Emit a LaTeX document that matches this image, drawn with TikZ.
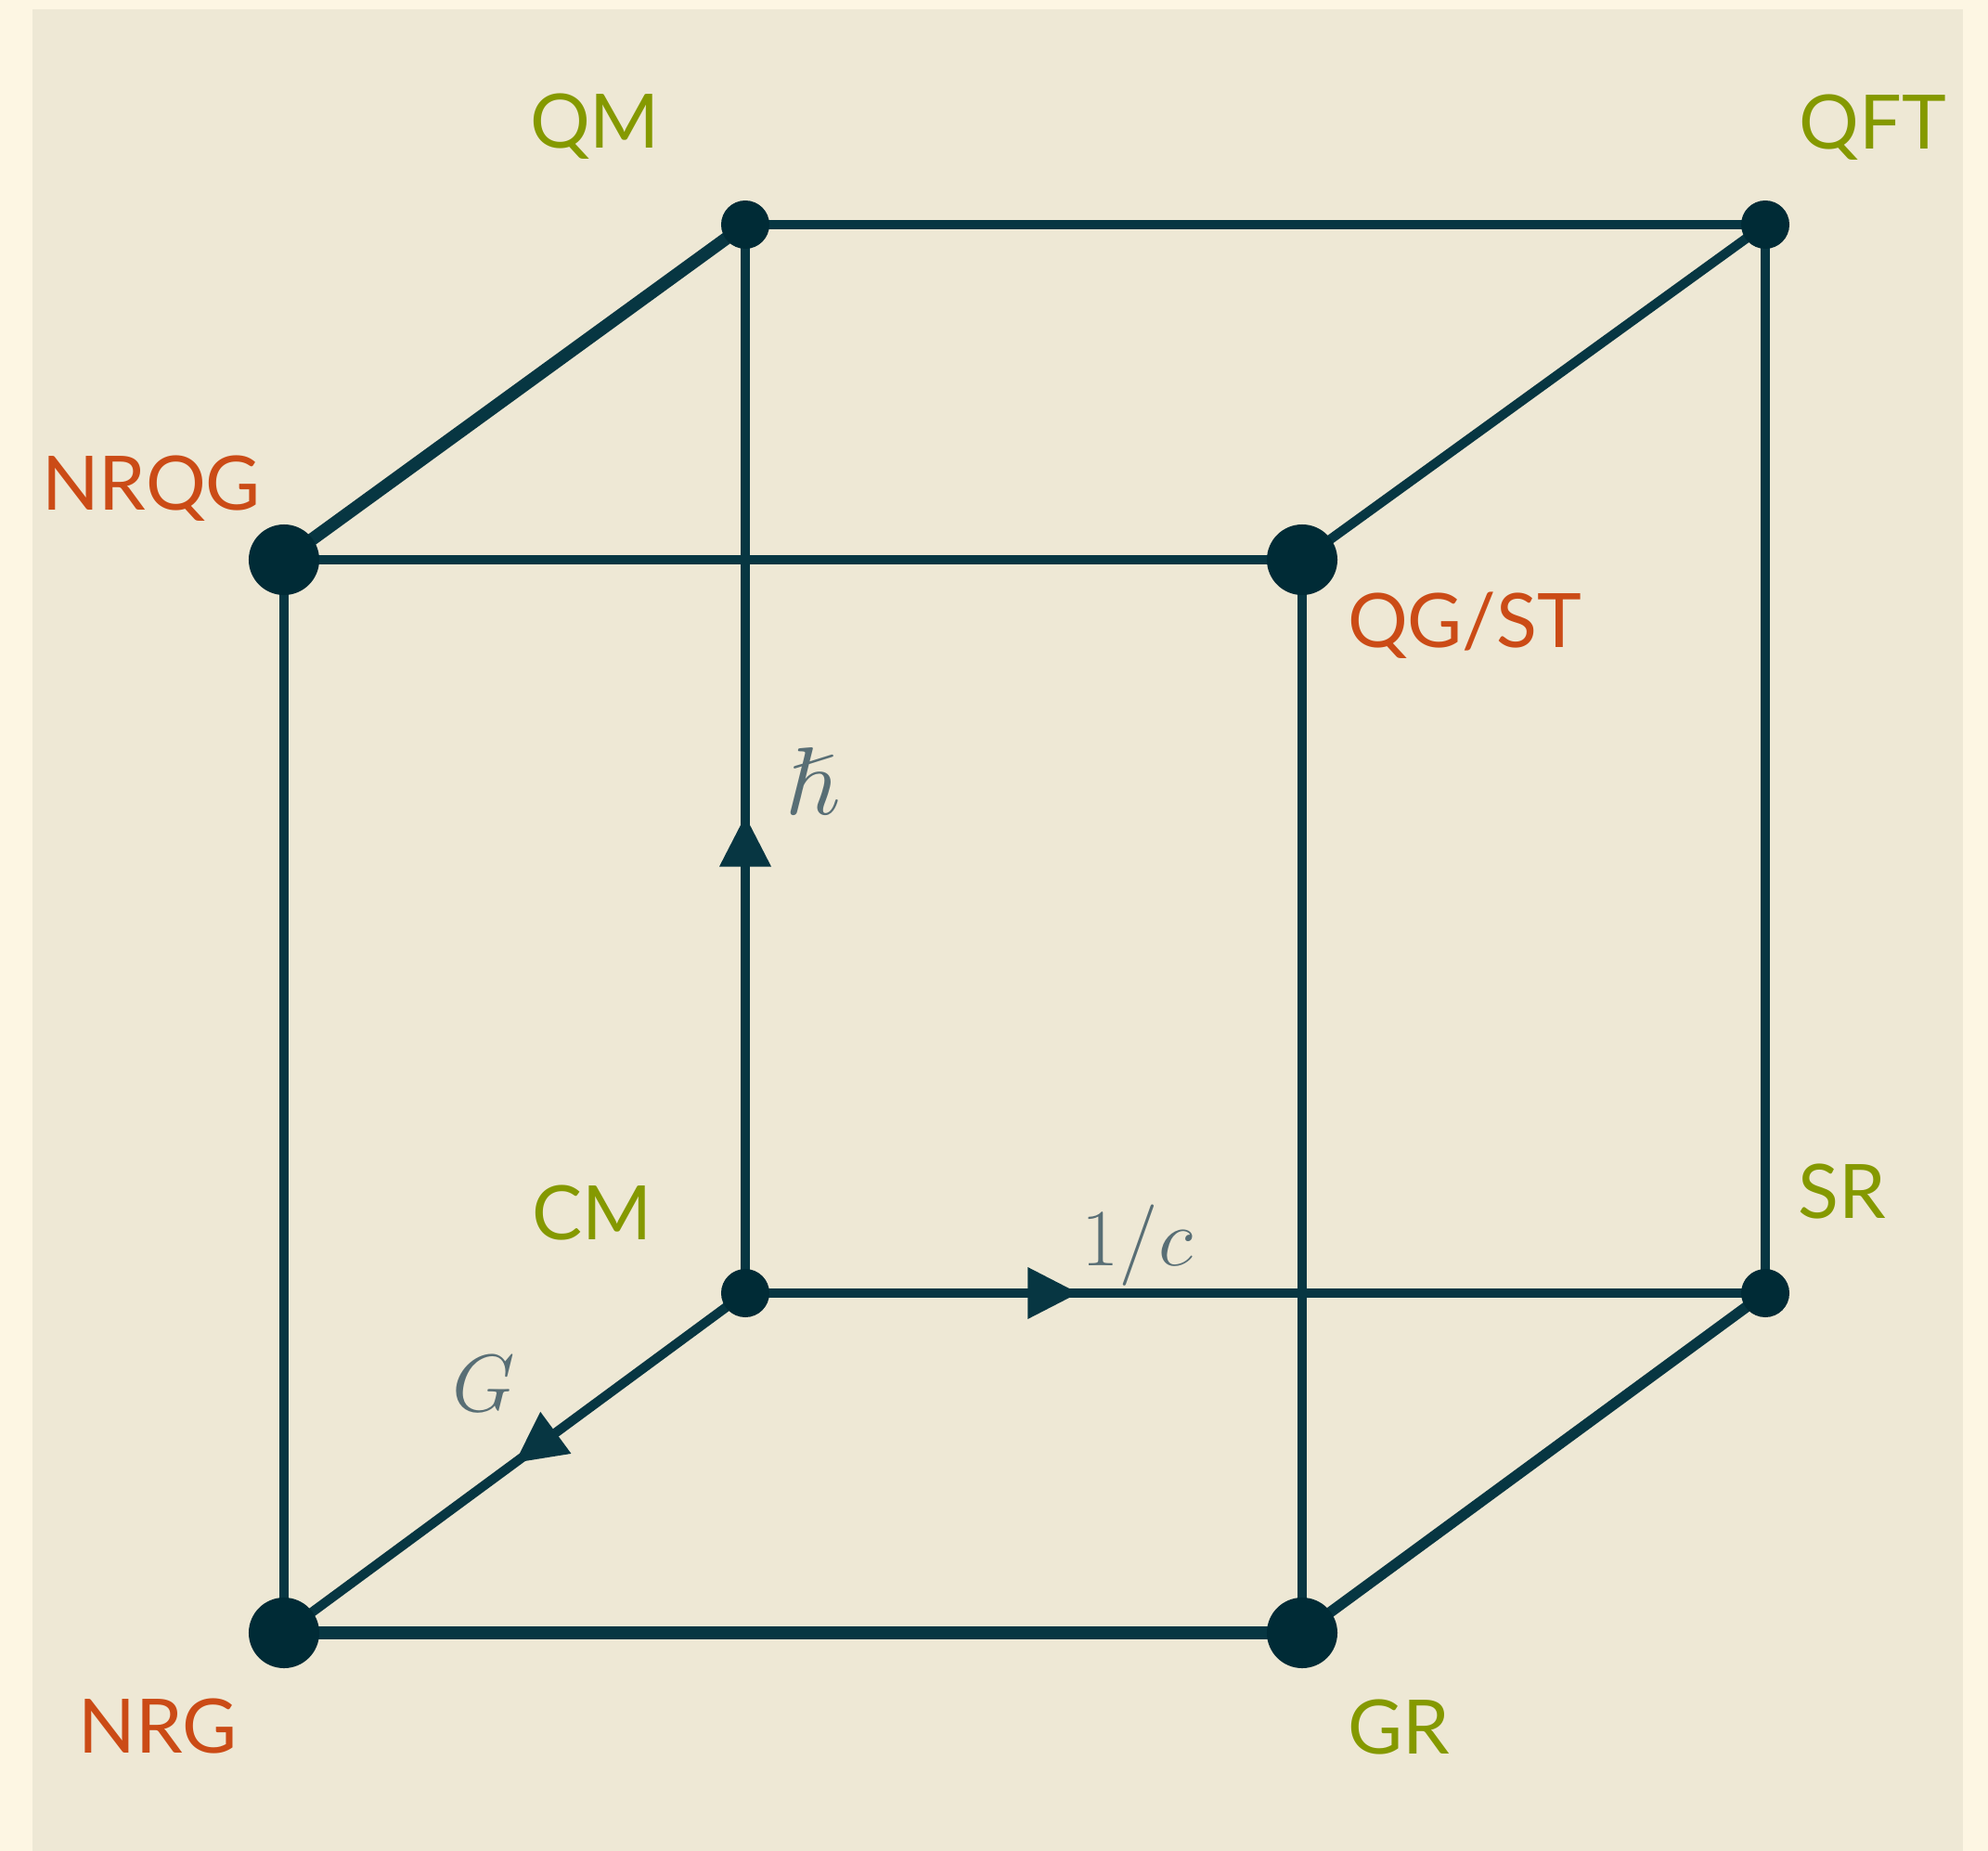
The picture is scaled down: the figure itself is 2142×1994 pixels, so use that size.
\documentclass[tikz,border=0pt]{standalone}
\usepackage{amssymb}
\usepackage[no-math]{fontspec}
\setsansfont{Lato}
\usepackage{xcolor}
\usepackage{tikz}
\usetikzlibrary{arrows.meta}
\usetikzlibrary{decorations.markings}

\definecolor{base03}{HTML}{002B36}
\definecolor{base02}{HTML}{073642}
\definecolor{base01}{HTML}{586E75}
\definecolor{base2}{HTML}{EEE8D5}
\definecolor{base3}{HTML}{FDF6E3}
\definecolor{solgreen}{HTML}{859900}
\definecolor{solorange}{HTML}{CB4B16}

\begin{document}
\begin{tikzpicture}[x=0.01cm,y=-0.01cm,
    edge/.style={draw=base02,line width=2.9pt},
    thickedge/.style={draw=base02,line width=3.9pt},
    smalldot/.style={circle,fill=base03,inner sep=0pt,minimum size=0.52cm},
    bigdot/.style={circle,fill=base03,inner sep=0pt,minimum size=0.76cm},
    theory/.style={anchor=base,text=solgreen,font=\sffamily\fontsize{23}{28}\selectfont},
    gravtheory/.style={theory,text=solorange},
    param/.style={anchor=base,text=base01,font=\fontsize{29.5}{35}\selectfont},
    flow/.style={postaction={decorate},decoration={markings,
        mark=at position #1 with {\arrow{Triangle[length=0.55cm,width=0.53cm]}}}}]

\useasboundingbox (0,0) rectangle (2142,1994);
\fill[base3] (0,0) rectangle (2142,1994);
\fill[base2] (35,10) rectangle (2115,1994);

% corners of the cube
\coordinate (qm) at (803,242);
\coordinate (qft) at (1902,242);
\coordinate (cm) at (803,1393);
\coordinate (sr) at (1902,1393);
\coordinate (nrqg) at (306,603);
\coordinate (qgst) at (1403,603);
\coordinate (nrg) at (306,1759);
\coordinate (gr) at (1403,1759);

\draw[edge] (qm) -- (qft) -- (sr);
\draw[edge] (nrqg) -- (qgst) -- (gr);
\draw[edge] (nrg) -- (nrqg);
\draw[thickedge] (nrg) -- (gr);
\draw[thickedge] (nrqg) -- (qm);
\draw[edge] (qgst) -- (qft);
\draw[edge,line width=3.3pt] (gr) -- (sr);
\draw[edge,flow=0.447] (cm) -- (qm);
\draw[edge,flow=0.327] (cm) -- (sr);
\draw[edge,flow=0.5] (cm) -- (nrg);

\foreach \v in {qm,qft,cm,sr}
    \node[smalldot] (\v dot) at (\v) {};
\foreach \v in {nrqg,qgst,nrg,gr}
    \node[bigdot] (\v dot) at (\v) {};

\node[theory] (qmlabel) at (641,160) {QM};
\node[theory] (qftlabel) at (2018,161) {QFT};
\node[theory] (cmlabel) at (638,1335) {CM};
\node[theory] (srlabel) at (1985,1312) {SR};
\node[theory] (grlabel) at (1507,1889) {GR};
\node[gravtheory] (nrqglabel) at (163,549) {NRQG};
\node[gravtheory] (qgstlabel) at (1578,697) {QG/ST};
\node[gravtheory] (nrglabel) at (170,1888) {NRG};

\node[param] (hbarlabel) at (875,877) {$\hslash$};
\node[param] (clabel) at (1225,1363) {$1/c$};
\node[param] (glabel) at (521,1520) {$G$};

\end{tikzpicture}
\end{document}
